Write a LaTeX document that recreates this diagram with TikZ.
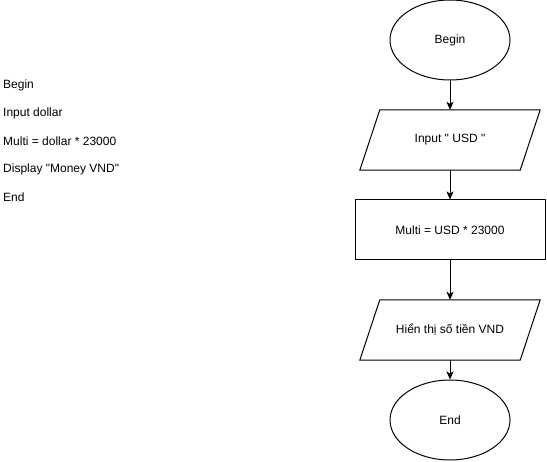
\documentclass[tikz,border=0pt]{standalone}
\usepackage{fontspec}
\setmainfont{Liberation Sans}[Ligatures=TeXOff]
\usetikzlibrary{shapes.geometric,arrows.meta}
\begin{document}
\begin{tikzpicture}[x=1pt,y=-1pt,
  every node/.style={font=\fontsize{12}{14}\selectfont},
  term/.style={draw,line width=1pt,ellipse,minimum width=120pt,minimum height=80pt,inner sep=0pt},
  iobox/.style={minimum width=160pt,minimum height=60pt,inner sep=0pt},
  procbox/.style={draw,line width=1pt,rectangle,minimum width=190pt,minimum height=60pt,inner sep=0pt},
  plain/.style={anchor=west,inner sep=0pt},
  flow/.style={line width=1pt,-{Stealth[length=8pt,width=7pt,inset=2pt]}}
]
\useasboundingbox (0,0) rectangle (547,462);
% left pseudo-code
\node[plain] (t1) at (3,85) {Begin};
\node[plain] (t2) at (3,113) {Input dollar};
\node[plain] (t3) at (3,141) {Multi = dollar * 23000};
\node[plain] (t4) at (3,169) {Display "Money VND"};
\node[plain] (t5) at (3,197) {End};
% flowchart
\node[term] (begin) at (450,40) {Begin};
\node[iobox] (input) at (450,140) {Input " USD "};
\draw[line width=1pt] ([xshift=10pt]input.north west) -- ([xshift=10pt]input.north east)
  -- ([xshift=-10pt]input.south east) -- ([xshift=-10pt]input.south west) -- cycle;
\node[procbox] (multi) at (450,230) {Multi = USD * 23000};
\node[iobox] (show) at (450,330) {Hiển thị số tiền VND};
\draw[line width=1pt] ([xshift=10pt]show.north west) -- ([xshift=10pt]show.north east)
  -- ([xshift=-10pt]show.south east) -- ([xshift=-10pt]show.south west) -- cycle;
\node[term] (end) at (450,420) {End};
\draw[flow] (begin) -- (input);
\draw[flow] (input) -- (multi);
\draw[flow] (multi) -- (show);
\draw[flow] (show) -- (end);
\end{tikzpicture}
\end{document}
